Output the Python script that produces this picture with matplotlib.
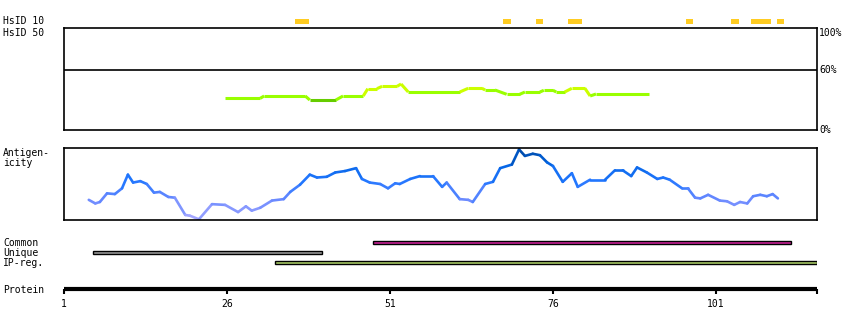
import numpy as np
import matplotlib
matplotlib.use("Agg")
from matplotlib import pyplot as plt
from matplotlib.collections import LineCollection
from matplotlib.colors import LinearSegmentedColormap, ListedColormap, BoundaryNorm

# protein length and ruler
prot_end = 116.5
prot_ticks = [1, 26, 51, 76, 101]

# HsID 10 hits (start, end residue)
hsid10 = [(36.4, 38.6), (68.3, 69.6), (73.4, 74.5), (78.3, 80.4),
          (96.4, 97.5), (103.3, 104.5), (106.4, 109.4), (110.4, 111.4)]

# HsID 50 identity profile (%)
hsid_res = [25.7, 31.1, 31.7, 38.0, 38.7, 42.7, 43.8, 46.9, 47.6, 49.0, 49.8, 52.1,
            52.7, 53.8, 61.7, 63.0, 65.1, 65.6, 67.1, 68.9, 70.9, 71.7, 74.0, 74.6,
            76.0, 76.5, 77.8, 78.9, 80.9, 81.7, 82.6, 90.7]
hsid_val = [31.7, 31.7, 34.0, 34.0, 30.0, 30.0, 34.0, 34.0, 41.3, 41.3, 43.7, 43.7,
            46.0, 38.0, 38.0, 41.7, 41.7, 40.0, 40.0, 35.7, 35.7, 38.0, 38.0, 39.7,
            39.7, 38.0, 38.0, 41.7, 41.7, 34.0, 36.0, 36.0]

# antigenicity profile (relative)
ag_res = [4.8, 5.8, 6.5, 7.6, 8.8, 9.9, 10.8, 11.6, 12.7, 13.7, 14.8, 15.7, 17.0, 18.0,
          19.6, 20.3, 21.7, 23.7, 25.7, 27.7, 28.9, 29.8, 31.1, 32.9, 34.7, 35.7, 37.2,
          38.7, 39.8, 41.3, 42.6, 44.1, 45.8, 46.7, 47.9, 49.5, 50.7, 51.8, 52.5, 54.1,
          55.6, 57.6, 59.0, 59.7, 61.7, 63.0, 63.7, 65.6, 66.8, 67.9, 69.7, 70.8, 71.7,
          72.9, 74.0, 75.1, 76.0, 77.5, 78.9, 79.8, 81.7, 84.0, 85.5, 86.7, 88.0, 88.9,
          90.4, 92.0, 92.9, 93.9, 95.8, 96.7, 97.8, 98.6, 99.8, 101.6, 102.7, 103.8,
          104.7, 105.8, 106.7, 107.8, 108.8, 109.7, 110.5]
ag_val = [0.28, 0.23, 0.25, 0.37, 0.36, 0.44, 0.63, 0.52, 0.54, 0.50, 0.38, 0.39, 0.32, 0.31,
          0.07, 0.06, 0.01, 0.22, 0.21, 0.11, 0.19, 0.13, 0.17, 0.27, 0.29, 0.39, 0.49,
          0.63, 0.59, 0.60, 0.66, 0.68, 0.72, 0.57, 0.52, 0.50, 0.44, 0.51, 0.50, 0.57,
          0.61, 0.61, 0.46, 0.52, 0.29, 0.28, 0.25, 0.50, 0.53, 0.72, 0.77, 0.98, 0.89,
          0.92, 0.90, 0.80, 0.75, 0.53, 0.65, 0.46, 0.56, 0.56, 0.69, 0.69, 0.61, 0.73,
          0.66, 0.57, 0.59, 0.56, 0.44, 0.44, 0.31, 0.30, 0.35, 0.27, 0.26, 0.21,
          0.25, 0.23, 0.33, 0.35, 0.33, 0.36, 0.30]

# region tracks
track_names = ["Common", "Unique", "IP-reg."]
track_spans = [(48.4, 112.5), (5.45, 40.6), (33.4, 116.5)]
track_colors = ["#cc2299", "#999999", "#aacc66"]

W, H = 850, 330
fig = plt.figure(figsize=(W / 100, H / 100), dpi=100)
mono = "DejaVu Sans Mono"
fs = 7


def box(x0, y0, x1, y1):
    # pixel box -> figure fraction rect
    return [x0 / W, 1 - y1 / H, (x1 - x0) / W, (y1 - y0) / H]


def label(x, y, s, **kw):
    fig.text(x / W, 1 - y / H, s, fontsize=fs, family=mono, va="center", **kw)


# HsID 10 track
ax10 = fig.add_axes(box(64, 19, 817, 24))
for s, e in hsid10:
    ax10.barh(0.5, e - s, left=s, height=1, color="#ffcc22", linewidth=0)
ax10.set_xlim(1, prot_end)
ax10.set_ylim(0, 1)
ax10.axis("off")

# HsID 50 panel
ax50 = fig.add_axes(box(64, 28, 817, 130))
pts = np.column_stack([hsid_res, hsid_val])
segs = np.stack([pts[:-1], pts[1:]], axis=1)
seg_v = np.maximum(pts[:-1, 1], pts[1:, 1])
gcmap = ListedColormap(["#66cc00", "#99ff00", "#ccff00"])
gnorm = BoundaryNorm([0, 31, 41, 100], 3)
lc = LineCollection(segs, cmap=gcmap, norm=gnorm, linewidths=2.2, capstyle="butt")
lc.set_array(seg_v)
ax50.add_collection(lc)
ax50.axhline(60, color="black", lw=1.2)
ax50.set_xlim(1, prot_end)
ax50.set_ylim(0, 102)
ax50.set_xticks([])
ax50.set_yticks([])
for sp in ax50.spines.values():
    sp.set_linewidth(1.2)
ax50.text(1.003, 97.5, "100%", transform=ax50.get_yaxis_transform(), fontsize=fs,
          family=mono, va="center", ha="left")
ax50.text(1.003, 60, "60%", transform=ax50.get_yaxis_transform(), fontsize=fs,
          family=mono, va="center", ha="left")
ax50.text(1.003, 0, "0%", transform=ax50.get_yaxis_transform(), fontsize=fs,
          family=mono, va="center", ha="left")

# antigenicity panel
axag = fig.add_axes(box(64, 148, 817, 220))
pts = np.column_stack([ag_res, ag_val])
segs = np.stack([pts[:-1], pts[1:]], axis=1)
seg_v = (pts[:-1, 1] + pts[1:, 1]) / 2
bcmap = LinearSegmentedColormap.from_list(
    "ag", [(0, "#aaaaff"), (0.3, "#6688ff"), (0.55, "#2277ff"), (0.8, "#0062e0"), (1, "#004499")])
lc = LineCollection(segs, cmap=bcmap, linewidths=1.9, capstyle="round")
lc.set_array(seg_v)
lc.set_clim(0, 1)
axag.add_collection(lc)
axag.set_xlim(1, prot_end)
axag.set_ylim(0, 1)
axag.set_xticks([])
axag.set_yticks([])
for sp in axag.spines.values():
    sp.set_linewidth(1.2)

# region tracks
axtr = fig.add_axes(box(64, 237.5, 817, 267.5))
for i, ((s, e), c) in enumerate(zip(track_spans, track_colors)):
    axtr.barh(i, e - s, left=s, height=0.34, color=c, edgecolor="black", linewidth=1.0)
axtr.set_xlim(1, prot_end)
axtr.set_ylim(2.5, -0.5)
axtr.axis("off")

# protein ruler
axp = fig.add_axes(box(64, 288.9, 817, 289))
axp.set_xlim(1, prot_end)
axp.set_ylim(0, 1)
for k in ["top", "left", "right"]:
    axp.spines[k].set_visible(False)
axp.spines["bottom"].set_linewidth(3)
axp.spines["bottom"].set_capstyle("butt")
axp.set_yticks([])
axp.set_xticks(prot_ticks + [prot_end])
axp.set_xticklabels([str(t) for t in prot_ticks] + [""], fontsize=fs, family=mono)
axp.tick_params(axis="x", length=3.5, width=1.5, pad=4)

# left labels
label(3, 21.5, "HsID 10")
label(3, 32.5, "HsID 50")
label(3, 153.5, "Antigen-")
label(3, 163, "icity")
for i, n in enumerate(track_names):
    label(3, 242.5 + 10 * i, n)
label(3, 290, "Protein")

fig.savefig("out.png", dpi=100)
